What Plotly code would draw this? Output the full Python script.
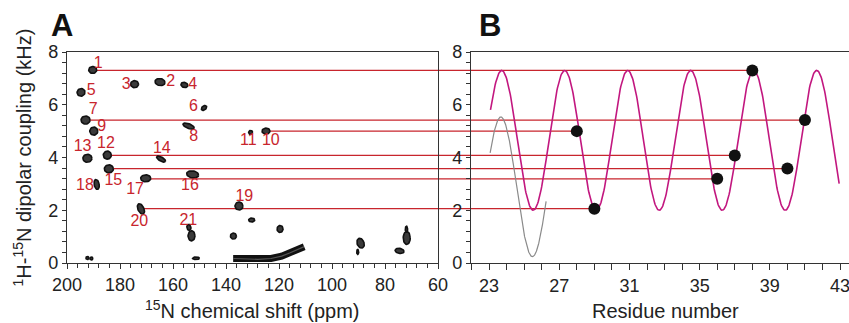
import numpy as np
import plotly.graph_objects as go

# ---------------- data ----------------
# Panel A: assigned peaks (15N ppm, dipolar kHz)
peak_ppm = [190.3, 164.9, 174.5, 155.7, 194.7, 148.3, 193.0, 154.1, 189.9, 124.9, 130.7,
            184.8, 192.3, 164.5, 184.2, 152.6, 170.3, 188.8, 135.1, 172.1, 153.0]
peak_khz = [7.32, 6.86, 6.78, 6.75, 6.47, 5.88, 5.42, 5.19, 5.00, 5.00, 4.95,
            4.09, 3.97, 3.94, 3.57, 3.36, 3.21, 2.98, 2.16, 2.05, 1.03]
# other (unlabelled) peaks
extra_ppm = [154.0, 130.3, 119.6, 137.2, 192.3, 190.8, 151.3, 89.2, 90.3, 71.8, 71.9, 74.5]
extra_khz = [1.35, 1.63, 1.29, 1.02, 0.19, 0.17, 0.18, 0.75, 0.42, 0.95, 1.28, 0.46]
# broad ridge of peaks
ridge_ppm = [137.3, 133.0, 128.0, 123.0, 119.0, 116.0, 113.0, 110.5]
ridge_khz = [0.17, 0.15, 0.14, 0.17, 0.26, 0.38, 0.52, 0.62]

# peak labels
label_text = [str(i) for i in range(1, 22)]
label_ppm = [188.2, 160.9, 177.7, 152.6, 190.9, 152.3, 190.1, 152.2, 186.9, 123.1, 131.6,
             185.3, 194.1, 164.2, 182.5, 153.6, 174.3, 193.2, 133.1, 172.7, 154.2]
label_khz = [7.56, 6.87, 6.74, 6.74, 6.53, 5.90, 5.80, 4.76, 5.16, 4.62, 4.62,
             4.51, 4.40, 4.34, 3.12, 2.93, 2.77, 2.93, 2.49, 1.56, 1.60]

# Panel B: assigned residues
res_number = [38, 41, 28, 37, 40, 36, 29]
res_khz = [7.30, 5.42, 5.00, 4.08, 3.58, 3.19, 2.06]
# peak each connecting line starts from (ppm)
link_start_ppm = [190.3, 193.0, 124.9, 184.8, 184.2, 170.3, 172.1]

# dipolar-wave fit parameters: mean, amplitude, period, residue of maximum, first/last residue
wave_fit = dict(mean=4.65, amp=2.65, period=3.59, peak=23.72, start=23.08, end=42.95)
wave_alt = dict(mean=2.89, amp=2.65, period=3.60, peak=23.67, start=23.06, end=26.25)

# text
title_xA = "<sup>15</sup>N chemical shift (ppm)"
title_xB = "Residue number"
title_y = "<sup>1</sup>H-<sup>15</sup>N dipolar coupling (kHz)"

# ---------------- styles ----------------
PX_PER_PPM = 2.65
PX_PER_KHZ = 26.4
peak_shape = [(4, 3.5, 0), (5, 3.5, -10), (4, 3.5, 0), (3.5, 2.5, -15), (4, 3.8, 30),
              (3, 2, 40), (4.5, 4, 0), (6, 2.3, -22), (4, 4, 0), (4, 3, 0), (2, 2, 0),
              (4, 4, 0), (4.5, 4, 0), (5, 2, -30), (4.5, 4, 0), (6, 3.5, -10), (5, 3.5, 0),
              (2.5, 5, 10), (4, 4, 0), (3, 5.5, 25), (3.5, 5, 0)]
extra_shape = [(2, 3, 10), (3, 2, 0), (3, 3.5, 0), (3, 3, 0), (1.5, 1.5, 0), (1.5, 1.5, 0),
               (3.5, 1.3, 0), (3.5, 5, 20), (1, 2.5, 0), (3.5, 6.5, 0), (1.2, 3, 0), (4.5, 2.5, -10)]

RED = "#c8252d"
MAGENTA = "#c2177f"
AXC = "#333333"
FONT = "Liberation Sans, Arial, sans-serif"

W, H = 849, 323
xdomA = [67 / W, 438 / W]
xdomB = [471 / W, 1.0]
ydom = [(H - 263) / H, (H - 52) / H]
xrangeA = [200, 60]
xrangeB = [21.97, 43.51]
yrange = [0, 8]


def ellipses(cx, cy, shapes):
    xs, ys = [], []
    t = np.linspace(0, 2 * np.pi, 36)
    for x0, y0, (a, b, ang) in zip(cx, cy, shapes):
        th = np.deg2rad(ang)
        px = a * np.cos(t) * np.cos(th) - b * np.sin(t) * np.sin(th)
        py = a * np.cos(t) * np.sin(th) + b * np.sin(t) * np.cos(th)
        xs += list(x0 - px / PX_PER_PPM) + [None]
        ys += list(y0 + py / PX_PER_KHZ) + [None]
    return xs, ys


fig = go.Figure()

# red connecting lines (shapes, drawn below traces)
shapes = []
for s_ppm, k, r in zip(link_start_ppm, res_khz, res_number):
    common = dict(type="line", layer="below", line=dict(color=RED, width=1.3), y0=k, y1=k)
    shapes.append(dict(xref="x", yref="y", x0=s_ppm, x1=xrangeA[1], **common))
    shapes.append(dict(xref="paper", yref="y", x0=xdomA[1], x1=xdomB[0], **common))
    shapes.append(dict(xref="x2", yref="y2", x0=xrangeB[0], x1=r, **common))

# peaks
ex, ey = ellipses(peak_ppm + extra_ppm, peak_khz + extra_khz, peak_shape + extra_shape)
fig.add_trace(go.Scatter(x=ex, y=ey, mode="lines", fill="toself", fillcolor="#3a3a3a",
                         line=dict(color="#111111", width=1.6), xaxis="x", yaxis="y",
                         hoverinfo="skip", showlegend=False))
fig.add_trace(go.Scatter(x=ridge_ppm, y=ridge_khz, mode="lines",
                         line=dict(color="#111111", width=7), xaxis="x", yaxis="y",
                         hoverinfo="skip", showlegend=False))
fig.add_trace(go.Scatter(x=ridge_ppm, y=ridge_khz, mode="lines",
                         line=dict(color="#555555", width=1.2), xaxis="x", yaxis="y",
                         hoverinfo="skip", showlegend=False))
fig.add_trace(go.Scatter(x=label_ppm, y=label_khz, mode="text", text=label_text,
                         textposition="middle center",
                         textfont=dict(color=RED, size=16, family=FONT),
                         xaxis="x", yaxis="y", hoverinfo="skip", showlegend=False))


def wave(p, n=600):
    r = np.linspace(p["start"], p["end"], n)
    return r, p["mean"] + p["amp"] * np.cos(2 * np.pi * (r - p["peak"]) / p["period"])


gx, gy = wave(wave_alt)
fig.add_trace(go.Scatter(x=gx, y=gy, mode="lines", line=dict(color="#8a8a8a", width=1.2),
                         xaxis="x2", yaxis="y2", hoverinfo="skip", showlegend=False))
mx, my = wave(wave_fit)
fig.add_trace(go.Scatter(x=mx, y=my, mode="lines", line=dict(color=MAGENTA, width=1.6),
                         xaxis="x2", yaxis="y2", hoverinfo="skip", showlegend=False))
fig.add_trace(go.Scatter(x=res_number, y=res_khz, mode="markers",
                         marker=dict(color="#111111", size=12), xaxis="x2", yaxis="y2",
                         hoverinfo="skip", showlegend=False))

tickfont = dict(size=18, color="#222222", family=FONT)
titlefont = dict(size=20, color="#222222", family=FONT)
axcommon = dict(showline=True, linecolor=AXC, linewidth=1.3, showgrid=False, zeroline=False,
                ticks="outside", tickcolor=AXC, tickwidth=1.2, tickfont=tickfont,
                automargin=False, ticklabeloverflow="allow")

fig.update_layout(
    width=W, height=H, margin=dict(l=0, r=0, t=0, b=0),
    paper_bgcolor="white", plot_bgcolor="white", showlegend=False,
    font=dict(family=FONT),
    shapes=shapes,
    xaxis=dict(domain=xdomA, range=xrangeA, anchor="y", mirror=True, tick0=200, dtick=20,
               ticklen=5, minor=dict(dtick=4, ticklen=4, ticks="outside", tickcolor=AXC),
               **axcommon),
    yaxis=dict(domain=ydom, range=yrange, anchor="x", mirror=True, dtick=2, ticklen=4,
               minor=dict(dtick=0.4, ticklen=4, ticks="outside", tickcolor=AXC),
               **axcommon),
    xaxis2=dict(domain=xdomB, range=xrangeB, anchor="y2", mirror=True, tick0=23, dtick=4,
                ticklen=6, minor=dict(tick0=23, dtick=1, ticklen=6, ticks="outside", tickcolor=AXC),
                **axcommon),
    yaxis2=dict(domain=ydom, range=yrange, anchor="x2", mirror=False, dtick=2, ticklen=4,
                minor=dict(dtick=0.4, ticklen=4, ticks="outside", tickcolor=AXC),
                **axcommon),
    annotations=[
        dict(text="<b>A</b>", xref="paper", yref="paper", x=62.5 / W, y=1 - 25.5 / H,
             showarrow=False, font=dict(size=31, color="#111111", family=FONT),
             xanchor="center", yanchor="middle"),
        dict(text="<b>B</b>", xref="paper", yref="paper", x=489.5 / W, y=1 - 25.5 / H,
             showarrow=False, font=dict(size=31, color="#111111", family=FONT),
             xanchor="center", yanchor="middle"),
        dict(text=title_xA, xref="paper", yref="paper", x=sum(xdomA) / 2, y=1 - 309 / H,
             showarrow=False, font=titlefont, xanchor="center", yanchor="middle"),
        dict(text=title_xB, xref="paper", yref="paper", x=665 / W, y=1 - 311 / H,
             showarrow=False, font=titlefont, xanchor="center", yanchor="middle"),
        dict(text=title_y, xref="paper", yref="paper", x=22 / W, y=sum(ydom) / 2,
             textangle=-90, showarrow=False, font=titlefont, xanchor="center", yanchor="middle"),
    ],
)

fig.write_html("out.html")
